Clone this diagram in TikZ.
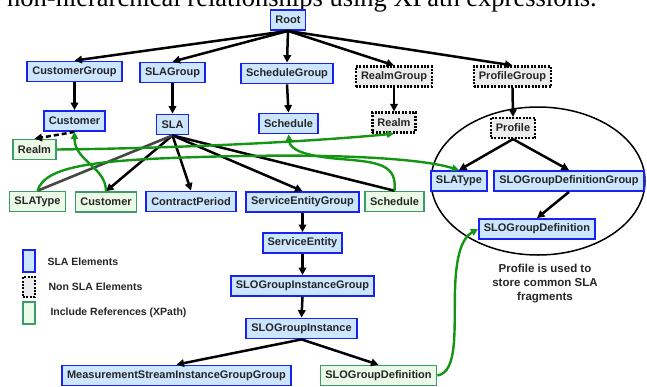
\documentclass[tikz,border=0pt]{standalone}
\usepackage{fontspec}
\setmainfont{Liberation Serif}
\setsansfont{Liberation Sans}
\usetikzlibrary{arrows.meta,shapes.geometric}

\definecolor{slafill}{RGB}{204,230,255}
\definecolor{sladraw}{RGB}{25,35,240}
\definecolor{nonfill}{RGB}{236,236,236}
\definecolor{reffill}{RGB}{234,250,230}
\definecolor{refdraw}{RGB}{60,155,108}
\definecolor{refline}{RGB}{20,150,20}
\definecolor{grayline}{RGB}{70,70,70}

\begin{document}
\begin{tikzpicture}[x=1pt,y=-1pt,
  box/.style={rectangle,font=\sffamily\bfseries\fontsize{11}{12}\selectfont,text=black!85,minimum height=20pt,inner xsep=5pt,inner ysep=2pt},
  sla/.style={box,fill=slafill,draw=sladraw,line width=1.8pt},
  nonsla/.style={box,fill=nonfill,draw=black,line width=2.2pt,dash pattern=on 2pt off 1.4pt},
  ref/.style={box,fill=reffill,draw=refdraw,line width=1.5pt},
  arr/.style={line width=2.5pt,-{Triangle[length=7.5pt,width=7.5pt]}},
  inc/.style={refline,line width=2.4pt,-{Triangle[length=7pt,width=7pt]}},
  legend/.style={anchor=west,font=\sffamily\bfseries\fontsize{10.5}{12}\selectfont,text=black!85}]
  \useasboundingbox (0,0) rectangle (647,386);

  % caption line cut by the top edge
  \node[anchor=base west,inner sep=0pt,font=\fontsize{26.5}{30}\selectfont] (t0) at (7,6.5) {non-hierarchical relationships using XPath expressions.};

  \node[ellipse,draw,line width=1.5pt,minimum width=214pt,minimum height=148pt,inner sep=0pt] (e1) at (538,181) {};

  \node[sla] (n1) at (288,20) {Root};
  \node[sla] (n2) at (74.5,71.5) {CustomerGroup};
  \node[sla] (n3) at (172.5,72.5) {SLAGroup};
  \node[sla] (n4) at (287,73.5) {ScheduleGroup};
  \node[nonsla] (n5) at (394,76.5) {RealmGroup};
  \node[nonsla] (n6) at (512.5,76.5) {ProfileGroup};
  \node[sla] (n7) at (74.5,121) {Customer};
  \node[sla] (n8) at (172.5,124.5) {SLA};
  \node[sla] (n9) at (288.5,123.5) {Schedule};
  \node[nonsla] (n10) at (394,122.5) {Realm};
  \node[nonsla] (n11) at (513,128) {Profile};
  \node[ref] (n12) at (34.5,149.5) {Realm};
  \node[ref] (n13) at (37.5,201.5) {SLAType};
  \node[ref] (n14) at (106,202) {Customer};
  \node[sla] (n15) at (191,201.5) {ContractPeriod};
  \node[sla] (n16) at (302.5,202) {ServiceEntityGroup};
  \node[ref] (n17) at (394.5,201.5) {Schedule};
  \node[sla] (n18) at (459,181) {SLAType};
  \node[sla] (n19) at (569,181) {SLOGroupDefinitionGroup};
  \node[sla] (n20) at (537,229) {SLOGroupDefinition};
  \node[sla] (n21) at (302.5,243) {ServiceEntity};
  \node[sla] (n22) at (302.5,286) {SLOGroupInstanceGroup};
  \node[sla] (n23) at (301.5,328.5) {SLOGroupInstance};
  \node[sla] (n24) at (176.5,375.5) {MeasurementStreamInstanceGroupGroup};
  \node[ref] (n25) at (378.5,375.5) {SLOGroupDefinition};

  % legend
  \node[sla,minimum width=12pt,minimum height=22pt,inner sep=0pt] (l1) at (29,261) {};
  \node[nonsla,minimum width=12pt,minimum height=20pt,inner sep=0pt] (l2) at (29,287) {};
  \node[ref,minimum width=12pt,minimum height=22pt,inner sep=0pt] (l3) at (29,313) {};
  \node[legend] (t1) at (44,262) {SLA Elements};
  \node[legend] (t2) at (45,287) {Non SLA Elements};
  \node[legend] (t3) at (47,313) {Include References (XPath)};

  \node[align=center,font=\sffamily\bfseries\fontsize{11.5}{14}\selectfont,text=black!85] (c1) at (545,284) {Profile is used to\\store common SLA\\fragments};

  \foreach \from/\to in {n1/n2,n1/n3,n1/n4,n1/n5,n1/n6,n2/n7,n3/n8,n4/n9,n5/n10,n6/n11,n8/n14,n8/n15,n8/n16,n16/n21,n21/n22,n22/n23,n23/n24,n23/n25,n11/n18,n11/n19,n19/n20}
    \draw[arr] (\from.south) -- (\to.north);

  \draw[grayline,line width=2.6pt] (n8.south) -- (n13.north);
  \draw[line width=2.5pt] (n8.south) -- (n17.north);
  \draw[arr,dash pattern=on 5pt off 3pt] (n7.south) -- (n12.north);

  % include references
  \draw[inc] (n14.north) .. controls (106,167) and (74.5,161) .. (n7.south);
  \draw[inc] (n12.east) .. controls (200,148) and (330,140) .. (n10.south);
  \draw[inc] (n13.north) .. controls (45,165) and (100,160) .. (200,157) .. controls (330,153) and (420,158) .. (n18.north);
  \draw[inc] (n17.north) .. controls (397,165) and (380,162) .. (340,159) .. controls (305,156) and (290,150) .. (n9.south);
  \draw[inc] (n25.east) .. controls (458,372) and (454,330) .. (455,290) .. controls (456,255) and (462,238) .. (n20.west);
\end{tikzpicture}
\end{document}
